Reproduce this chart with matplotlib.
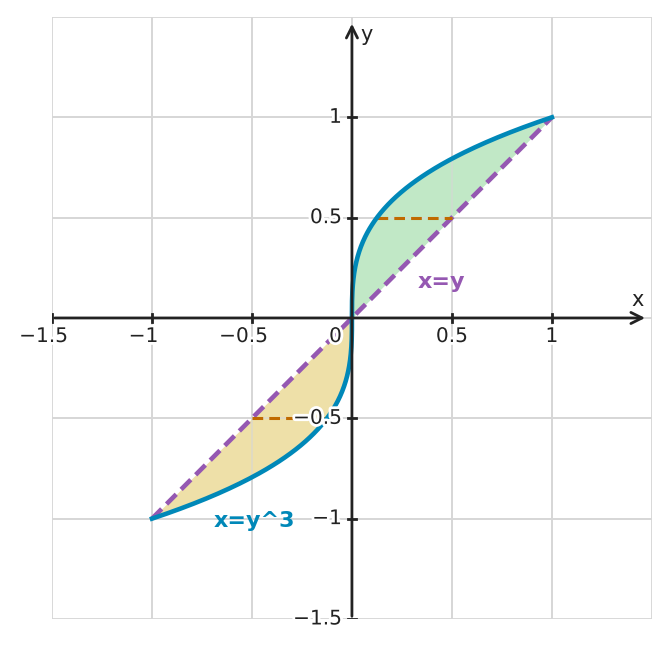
import numpy as np
import matplotlib.pyplot as plt
import matplotlib.patheffects as pe
from matplotlib.transforms import offset_copy

# data
ticks = [-1.5, -1, -0.5, 0.5, 1]
tick_labels = ['\u22121.5', '\u22121', '\u22120.5', '0.5', '1']
yticks = [-1.5, -1, -0.5, 0.5, 1]
ytick_labels = ['\u22121.5', '\u22121', '\u22120.5', '0.5', '1']
y_curve = np.linspace(-1, 1, 401)
x_curve = y_curve ** 3
chord_y = [-0.5, 0.5]

blue = '#0088b8'
purple = '#9558b2'
orange = '#c06a00'
green_fill = '#c1e8c6'
yellow_fill = '#eee0a8'
fs = 14.5

fig = plt.figure(figsize=(6.71, 6.48), dpi=100)
ax = fig.add_axes([0.0775, 0.0448, 0.894, 0.929])
ax.set_xlim(-1.5, 1.5)
ax.set_ylim(-1.5, 1.5)

for v in [-1.5, -1, -0.5, 0, 0.5, 1, 1.5]:
    ax.plot([v, v], [-1.5, 1.5], color='#d6d6d6', lw=1.3, zorder=0)
    ax.plot([-1.5, 1.5], [v, v], color='#d6d6d6', lw=1.3, zorder=0)

for s in ax.spines.values():
    s.set_visible(False)
ax.set_xticks([])
ax.set_yticks([])

# fills between curve and line
pos = y_curve >= 0
neg = y_curve <= 0
ax.fill_betweenx(y_curve[pos], x_curve[pos], y_curve[pos], color=green_fill, lw=0, zorder=1)
ax.fill_betweenx(y_curve[neg], y_curve[neg], x_curve[neg], color=yellow_fill, lw=0, zorder=1)
# grid shows faintly through the fills
for v in [-1, -0.5, 0.5, 1]:
    ax.plot([v, v], [-1.5, 1.5], color='#d6d6d6', lw=1.3, zorder=1.5, alpha=0.6)
    ax.plot([-1.5, 1.5], [v, v], color='#d6d6d6', lw=1.3, zorder=1.5, alpha=0.6)

# axes with arrows
ax.annotate('', xy=(1.48, 0), xytext=(-1.5, 0),
            arrowprops=dict(arrowstyle='->', color='#222222', lw=2, mutation_scale=20), zorder=5)
ax.annotate('', xy=(0, 1.48), xytext=(0, -1.5),
            arrowprops=dict(arrowstyle='->', color='#222222', lw=2, mutation_scale=20), zorder=5)

stroke = [pe.withStroke(linewidth=4, foreground='white')]
# negative x labels: digits centred on the tick, minus sign hangs left
shift_left = offset_copy(ax.transData, fig=fig, x=-0.838 * fs / 2, y=0, units='points')
for t, lab in zip(ticks, tick_labels):
    ax.plot([t, t], [-0.02, 0.02], color='#222222', lw=2, zorder=5)
    ax.text(t, -0.045, lab, ha='center', va='top', fontsize=fs, color='#222222',
            path_effects=stroke, zorder=6,
            transform=shift_left if t < 0 else ax.transData)
for t, lab in zip(yticks, ytick_labels):
    ax.plot([-0.02, 0.02], [t, t], color='#222222', lw=2, zorder=5)
    ax.text(-0.05, t, lab, ha='right', va='center', fontsize=fs, color='#222222',
            path_effects=stroke, zorder=6)
ax.text(-0.05, -0.045, '0', ha='right', va='top', fontsize=fs, color='#222222',
        path_effects=stroke, zorder=6)

ax.text(1.43, 0.04, 'x', ha='center', va='bottom', fontsize=15, color='#222222')
ax.text(0.04, 1.41, 'y', ha='left', va='center', fontsize=15, color='#222222')

# line x=y and curve x=y^3
ax.plot([-1, 1], [-1, 1], color=purple, lw=3.3, ls=(0, (3, 1.5)), zorder=3)
ax.plot(x_curve, y_curve, color=blue, lw=3.3, zorder=4)

for cy in chord_y:
    ax.plot(sorted([cy ** 3, cy]), [cy, cy], color=orange, lw=2.2, ls=(0, (3.5, 2)), zorder=3)

ax.text(0.445, 0.18, 'x=y', ha='center', va='center', fontsize=16, fontweight='bold', color=purple)
ax.text(-0.49, -1.01, 'x=y^3', ha='center', va='center', fontsize=16, fontweight='bold', color=blue)

fig.savefig('out.png', dpi=100)
